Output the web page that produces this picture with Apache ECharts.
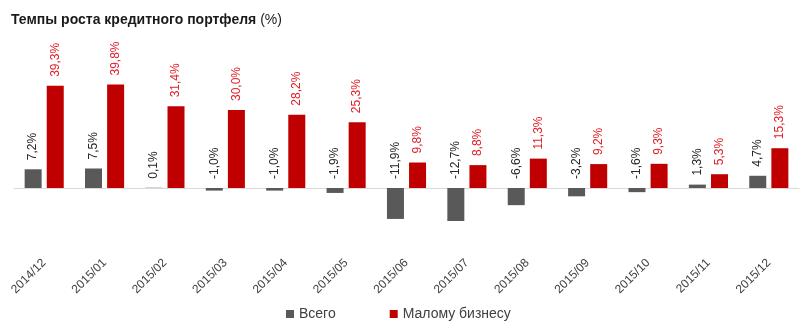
<!DOCTYPE html>
<html>
<head>
<meta charset="utf-8">
<script src="https://cdn.jsdelivr.net/npm/echarts@6/dist/echarts.min.js"></script>
<style>html,body{margin:0;padding:0;background:#fff}#c{width:800px;height:328px}</style>
</head>
<body>
<div id="c"></div>
<script>
var categories = ['2014/12','2015/01','2015/02','2015/03','2015/04','2015/05','2015/06','2015/07','2015/08','2015/09','2015/10','2015/11','2015/12'];
var totalValues = [7.2, 7.5, 0.1, -1.0, -1.0, -1.9, -11.9, -12.7, -6.6, -3.2, -1.6, 1.3, 4.7];
var smallBizValues = [39.3, 39.8, 31.4, 30.0, 28.2, 25.3, 9.8, 8.8, 11.3, 9.2, 9.3, 5.3, 15.3];
var seriesNames = ['Всего', 'Малому бизнесу'];
var titleBold = 'Темпы роста кредитного портфеля ';
var titleNormal = '(%)';

function fmt(p){ return p.value.toFixed(1).replace('.', ',') + '%'; }

var chart = echarts.init(document.getElementById('c'), null, {renderer:'canvas'});
chart.setOption({
  animation: false,
  title: {
    text: '{b|' + titleBold + '}{n|' + titleNormal + '}',
    left: 6, top: 8,
    textStyle: {
      rich: {
        b: {fontFamily: 'Liberation Sans', fontWeight: 'bold', fontSize: 14, color: '#1a1a1a'},
        n: {fontFamily: 'Liberation Sans', fontWeight: 'normal', fontSize: 14, color: '#1a1a1a'}
      }
    }
  },
  legend: {
    data: seriesNames,
    bottom: 2,
    left: 281,
    icon: 'rect',
    itemWidth: 8, itemHeight: 8,
    itemGap: 54,
    textStyle: {fontFamily: 'Liberation Sans', fontSize: 14, color: '#404040'}
  },
  grid: {left: 14, right: 1, top: 84, bottom: 101, containLabel: false},
  xAxis: [
    {
      type: 'category', data: categories,
      axisLine: {onZero: true, lineStyle: {color: '#d9d9d9', width: 1}},
      axisTick: {show: false}, axisLabel: {show: false}
    },
    {
      type: 'category', data: categories, position: 'bottom',
      axisLine: {show: false, onZero: false}, axisTick: {show: false},
      axisLabel: {rotate: 45, margin: 34, fontFamily: 'Liberation Sans', fontSize: 12, color: '#404040'}
    }
  ],
  yAxis: {
    type: 'value', min: -15, max: 40,
    show: false, splitLine: {show: false}
  },
  series: [
    {
      name: seriesNames[0], type: 'bar', data: totalValues, xAxisIndex: 0,
      barWidth: 17, barGap: '30%',
      itemStyle: {color: '#595959'},
      label: {show: true, position: 'top', rotate: 90, align: 'left', verticalAlign: 'middle', distance: 9,
        formatter: fmt, fontFamily: 'Liberation Sans', fontSize: 12, color: '#262626'}
    },
    {
      name: seriesNames[1], type: 'bar', data: smallBizValues, xAxisIndex: 0,
      barWidth: 17,
      itemStyle: {color: '#c00000'},
      label: {show: true, position: 'top', rotate: 90, align: 'left', verticalAlign: 'middle', distance: 9,
        formatter: fmt, fontFamily: 'Liberation Sans', fontSize: 12, color: '#e0202a'}
    }
  ]
});
</script>
</body>
</html>
